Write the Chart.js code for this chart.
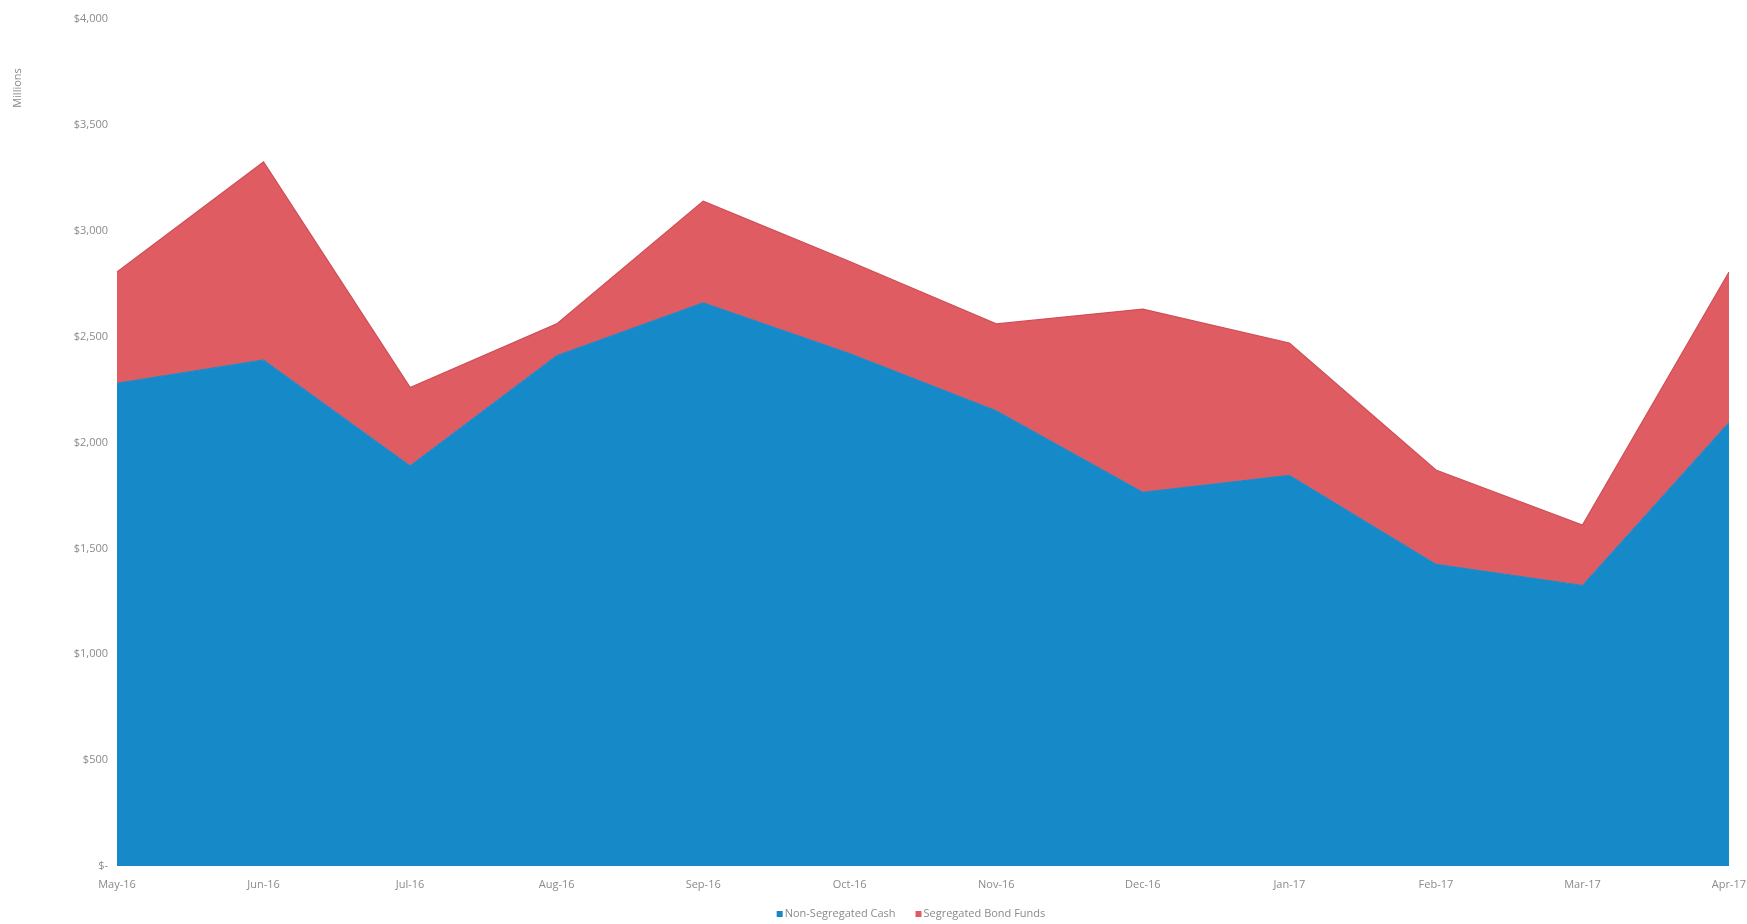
<!DOCTYPE html>
<html>
<head>
<meta charset="utf-8">
<script src="https://cdn.jsdelivr.net/npm/chart.js@4"></script>
<style>
html,body{margin:0;padding:0;background:#fff;}
#wrap{position:relative;width:1747px;height:924px;}
</style>
</head>
<body>
<div id="wrap"><canvas id="c" width="1747" height="924"></canvas></div>
<script>
const categories = ["May-16","Jun-16","Jul-16","Aug-16","Sep-16","Oct-16","Nov-16","Dec-16","Jan-17","Feb-17","Mar-17","Apr-17"];
const nonSegregatedCash = [2280, 2390, 1890, 2410, 2660, 2420, 2150, 1765, 1845, 1425, 1325, 2095];
const segregatedBondFunds = [525, 935, 370, 150, 480, 435, 410, 865, 625, 445, 285, 710];
const yTickValues = [0, 500, 1000, 1500, 2000, 2500, 3000, 3500, 4000];
const yTickLabels = ["$-", "$500", "$1,000", "$1,500", "$2,000", "$2,500", "$3,000", "$3,500", "$4,000"];
const seriesNames = ["Non-Segregated Cash", "Segregated Bond Funds"];
const yAxisTitle = "Millions";

const BLUE = "#1689c9";
const RED = "#e05c63";
const TXT = "#8a8a8a";
const FONT = "'Open Sans', 'Liberation Sans', sans-serif";

const extras = {
  id: 'extras',
  afterDraw(chart) {
    const ctx = chart.ctx;
    ctx.save();
    ctx.fillStyle = TXT;
    ctx.font = "11px " + FONT;
    ctx.translate(18, 88);
    ctx.rotate(-Math.PI / 2);
    ctx.textAlign = "center";
    ctx.textBaseline = "middle";
    ctx.fillText(yAxisTitle, 0, 0);
    ctx.restore();

    ctx.save();
    ctx.font = "11px " + FONT;
    ctx.textBaseline = "middle";
    const box = 6, gap = 2, sep = 20;
    const items = chart.data.datasets.map(d => ({label: d.label, color: d.backgroundColor}));
    const widths = items.map(it => box + gap + ctx.measureText(it.label).width);
    const total = widths.reduce((a, b) => a + b, 0) + sep * (items.length - 1);
    let x = 911 - total / 2;
    const y = 914;
    items.forEach((it, i) => {
      ctx.fillStyle = it.color;
      ctx.fillRect(x, y - box / 2, box, box);
      ctx.fillStyle = TXT;
      ctx.textAlign = "left";
      ctx.fillText(it.label, x + box + gap, y);
      x += widths[i] + sep;
    });
    ctx.restore();
  }
};

new Chart(document.getElementById('c'), {
  type: 'line',
  data: {
    labels: categories,
    datasets: [
      {
        label: seriesNames[0],
        data: nonSegregatedCash,
        backgroundColor: BLUE,
        borderColor: BLUE,
        borderWidth: 1,
        fill: 'origin',
        pointRadius: 0,
        tension: 0
      },
      {
        label: seriesNames[1],
        data: segregatedBondFunds,
        backgroundColor: RED,
        borderColor: "#cf4f57",
        borderWidth: 1.2,
        fill: '-1',
        pointRadius: 0,
        tension: 0
      }
    ]
  },
  options: {
    responsive: false,
    animation: false,
    layout: { padding: { left: 0, right: 18, top: 19, bottom: 0 } },
    plugins: { legend: { display: false }, tooltip: { enabled: false } },
    scales: {
      x: {
        offset: false,
        grid: { display: false, drawTicks: false },
        border: { display: false },
        ticks: {
          color: TXT,
          font: { family: FONT, size: 11 },
          padding: 12,
          maxRotation: 0,
          autoSkip: false
        },
        afterFit(scale) { scale.height = 58; scale.paddingLeft = 0; scale.paddingRight = 0; }
      },
      y: {
        stacked: true,
        min: 0,
        max: 4000,
        afterBuildTicks(scale) { scale.ticks = yTickValues.map(v => ({ value: v })); },
        grid: { display: false, drawTicks: false },
        border: { display: false },
        ticks: {
          color: TXT,
          font: { family: FONT, size: 11 },
          padding: 9,
          callback: (v) => yTickLabels[yTickValues.indexOf(v)]
        },
        afterFit(scale) { scale.width = 117; scale.paddingTop = 0; scale.paddingBottom = 0; }
      }
    }
  },
  plugins: [extras]
});
</script>
</body>
</html>
